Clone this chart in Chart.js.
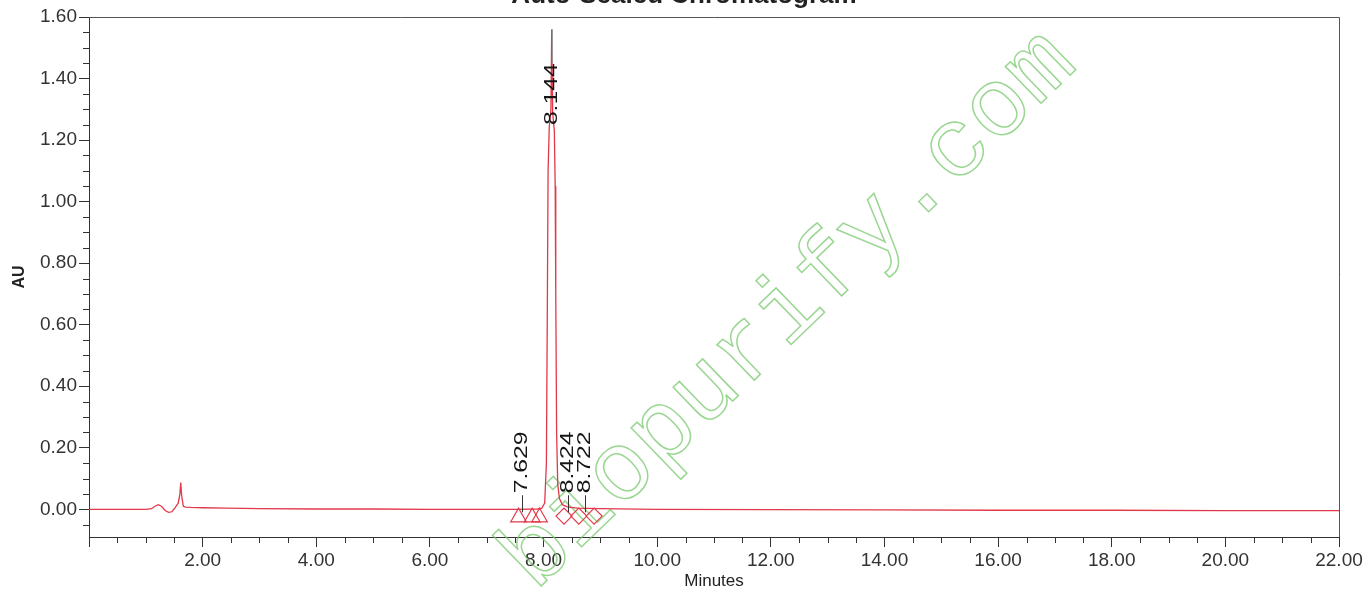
<!DOCTYPE html>
<html>
<head>
<meta charset="utf-8">
<title>Auto-Scaled Chromatogram</title>
<script src="https://cdn.jsdelivr.net/npm/chart.js@4.4.1/dist/chart.umd.min.js"></script>
<style>
  html, body { margin: 0; padding: 0; background: #fff; }
  #wrap { width: 1368px; height: 592px; position: relative; }
</style>
</head>
<body>
<div id="wrap"><canvas id="chromatogram"></canvas></div>
<script>
const chartTitle = "Auto-Scaled Chromatogram";
const watermark = "biopurify.com";

// retention time (min) / absorbance (AU)
const times = [0.00, 0.50, 1.00, 1.10, 1.16, 1.22, 1.28, 1.34, 1.40, 1.46, 1.51, 1.54, 1.57, 1.60, 1.615, 1.63, 1.66, 1.70, 1.80, 2.00,
    2.40, 3.00, 4.00, 5.00, 6.00, 7.00, 7.50, 7.90, 7.97, 8.02, 8.05, 8.065, 8.08, 8.10, 8.13, 8.144, 8.16, 8.19, 8.205, 8.215,
    8.23, 8.25, 8.28, 8.33, 8.42, 8.60, 9.00, 10.00, 12.00, 14.00, 16.00, 18.00, 20.00, 22.00];
const absorbance = [0.000, 0.000, 0.000, 0.002, 0.010, 0.015, 0.009, -0.004, -0.010, -0.008, 0.004, 0.012, 0.020, 0.050, 0.087, 0.045, 0.010, 0.007, 0.006, 0.005,
    0.004, 0.002, 0.001, 0.001, 0.000, 0.000, 0.000, 0.001, 0.004, 0.020, 0.150, 0.600, 1.100, 1.240, 1.300, 1.560, 1.290, 1.230, 1.050, 0.700,
    0.250, 0.080, 0.035, 0.015, 0.008, 0.004, 0.002, 0.000, -0.001, -0.002, -0.003, -0.003, -0.004, -0.004];

// integration marks (triangles = start, diamonds = end)
const startTimes = [7.56, 7.80, 7.93];
const startLevels = [-0.026, -0.026, -0.026];
const endTimes = [8.36, 8.62, 8.89];
const endLevels = [-0.022, -0.022, -0.022];

// labelled peaks
const peakTimes = [7.629, 8.144, 8.424, 8.722];
const peakLabels = ["7.629", "8.144", "8.424", "8.722"];
const peakHeights = [0.0, 1.56, 0.0, 0.0];

const xMin = 0, xMax = 22, xMajor = 2, xMinor = 0.5;
const yMin = -0.09, yMax = 1.6, yMajor = 0.2, yMinor = 0.05;

const traceColor = '#e2394a';
const axisColor = '#333';
const family = '"Liberation Sans", Arial, sans-serif';

function isMajor(v, step) {
    return Math.abs(v / step - Math.round(v / step)) < 1e-6;
}

const frameAndMinorTicks = {
    id: 'frameAndMinorTicks',
    afterDraw(chart) {
        const {ctx, chartArea: a} = chart;
        const x = chart.scales.x, y = chart.scales.y;
        ctx.save();
        ctx.strokeStyle = axisColor;
        ctx.lineWidth = 1;
        ctx.beginPath();
        x.ticks.forEach(t => {
            if (isMajor(t.value, xMajor)) return;
            const px = Math.round(x.getPixelForValue(t.value)) + 0.5;
            ctx.moveTo(px, a.bottom);
            ctx.lineTo(px, a.bottom + 6);
        });
        y.ticks.forEach(t => {
            if (isMajor(t.value, yMajor)) return;
            const py = Math.round(y.getPixelForValue(t.value)) + 0.5;
            ctx.moveTo(a.left, py);
            ctx.lineTo(a.left - 6, py);
        });
        ctx.stroke();
        ctx.strokeStyle = '#555';
        ctx.beginPath();
        ctx.moveTo(a.left, Math.round(a.top) + 0.5);
        ctx.lineTo(Math.round(a.right) + 0.5, Math.round(a.top) + 0.5);
        ctx.lineTo(Math.round(a.right) + 0.5, a.bottom);
        ctx.stroke();

        // title, cut by the top edge
        ctx.fillStyle = '#222';
        ctx.font = 'bold 26px ' + family;
        ctx.textAlign = 'center';
        ctx.textBaseline = 'alphabetic';
        ctx.fillText(chartTitle, chart.width / 2, 3);
        ctx.restore();
    }
};

const watermarkText = {
    id: 'watermarkText',
    beforeDatasetsDraw(chart) {
        const {ctx} = chart;
        ctx.save();
        ctx.translate(535, 592);
        ctx.rotate(-0.768);
        ctx.font = '97px "Liberation Mono", "DejaVu Sans Mono", monospace';
        ctx.strokeStyle = 'rgba(120, 200, 110, 0.75)';
        ctx.lineWidth = 1.5;
        ctx.textAlign = 'left';
        ctx.textBaseline = 'alphabetic';
        ctx.strokeText(watermark, 0, 0);
        ctx.restore();
    }
};

const peakMarks = {
    id: 'peakMarks',
    afterDatasetsDraw(chart) {
        const {ctx} = chart;
        const x = chart.scales.x, y = chart.scales.y;
        ctx.save();
        ctx.font = '19px ' + family;
        ctx.textAlign = 'left';
        ctx.textBaseline = 'alphabetic';
        peakTimes.forEach((t, i) => {
            const px = Math.round(x.getPixelForValue(t)) + 0.5;
            const textLen = ctx.measureText(peakLabels[i]).width * 1.3;
            let lineTop, lineBottom, textStart;
            if (peakHeights[i] > 0.5) {
                lineTop = y.getPixelForValue(peakHeights[i]);
                lineBottom = lineTop + 34;
                textStart = lineBottom + textLen;
                ctx.strokeStyle = '#999';
            } else {
                lineBottom = y.getPixelForValue(peakHeights[i]) + 3;
                lineTop = lineBottom - 17;
                textStart = lineTop - 2;
                ctx.strokeStyle = '#333';
            }
            ctx.lineWidth = 1;
            ctx.beginPath();
            ctx.moveTo(px, lineTop);
            ctx.lineTo(px, lineBottom);
            ctx.stroke();

            ctx.save();
            ctx.translate(px + 4, textStart);
            ctx.rotate(-Math.PI / 2);
            ctx.scale(1.3, 1);
            ctx.fillStyle = '#151515';
            ctx.fillText(peakLabels[i], 0, 0);
            ctx.restore();
        });
        ctx.restore();
    }
};

const ctx = document.getElementById('chromatogram').getContext('2d');
new Chart(ctx, {
    type: 'line',
    data: {
        datasets: [{
            label: 'trace',
            data: times.map((t, i) => ({x: t, y: absorbance[i]})),
            borderColor: traceColor,
            borderWidth: 1.3,
            pointRadius: 0,
            tension: 0,
            fill: false
        }, {
            type: 'scatter',
            label: 'start',
            data: startTimes.map((t, i) => ({x: t, y: startLevels[i]})),
            pointStyle: 'triangle',
            pointRadius: 9,
            pointBorderWidth: 1.2,
            borderColor: traceColor,
            backgroundColor: 'rgba(0,0,0,0)'
        }, {
            type: 'scatter',
            label: 'end',
            data: endTimes.map((t, i) => ({x: t, y: endLevels[i]})),
            pointStyle: 'rectRot',
            pointRadius: 8,
            pointBorderWidth: 1.2,
            borderColor: traceColor,
            backgroundColor: 'rgba(0,0,0,0)'
        }]
    },
    options: {
        responsive: true,
        maintainAspectRatio: false,
        animation: false,
        layout: { padding: { top: 17, right: 29, left: 0, bottom: 0 } },
        plugins: {
            legend: { display: false },
            tooltip: { enabled: false },
            title: { display: false }
        },
        scales: {
            x: {
                type: 'linear',
                min: xMin,
                max: xMax,
                afterFit: s => { s.height = 55; },
                border: { display: true, color: axisColor, width: 1 },
                grid: {
                    drawOnChartArea: false,
                    tickLength: 10,
                    tickColor: c => (c.tick && isMajor(c.tick.value, xMajor)) ? axisColor : 'rgba(0,0,0,0)'
                },
                ticks: {
                    stepSize: xMinor,
                    includeBounds: false,
                    autoSkip: false,
                    maxRotation: 0,
                    minRotation: 0,
                    padding: 2,
                    color: '#333',
                    font: { family: family, size: 19 },
                    callback: v => (v > 0 && isMajor(v, xMajor)) ? v.toFixed(2) : ''
                },
                title: {
                    display: true,
                    text: 'Minutes',
                    color: '#222',
                    font: { family: family, size: 17 },
                    padding: { top: 0, bottom: 0 }
                }
            },
            y: {
                type: 'linear',
                min: yMin,
                max: yMax,
                afterFit: s => { s.width = 89; },
                border: { display: true, color: axisColor, width: 1 },
                grid: {
                    drawOnChartArea: false,
                    tickLength: 10,
                    tickColor: c => (c.tick && isMajor(c.tick.value, yMajor)) ? axisColor : 'rgba(0,0,0,0)'
                },
                ticks: {
                    stepSize: yMinor,
                    includeBounds: false,
                    autoSkip: false,
                    padding: 2,
                    color: '#333',
                    font: { family: family, size: 19 },
                    callback: v => isMajor(v, yMajor) ? v.toFixed(2) : ''
                },
                title: {
                    display: true,
                    text: 'AU',
                    color: '#222',
                    font: { family: family, size: 16, weight: 'bold' },
                    padding: { top: 10, bottom: 0 }
                }
            }
        }
    },
    plugins: [watermarkText, peakMarks, frameAndMinorTicks]
});
</script>
</body>
</html>
